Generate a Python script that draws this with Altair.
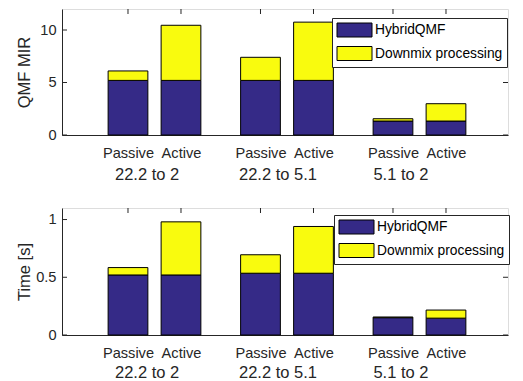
import altair as alt
import pandas as pd

# ---- data ----
modes = ["Passive", "Active", "Passive", "Active", "Passive", "Active"]
bar_groups = ["22.2 to 2", "22.2 to 2", "22.2 to 5.1", "22.2 to 5.1", "5.1 to 2", "5.1 to 2"]
bar_pos = [1, 2, 3.5, 4.5, 6, 7]
mir_hybrid = [5.2, 5.2, 5.2, 5.2, 1.33, 1.33]
mir_downmix = [0.9, 5.25, 2.2, 5.55, 0.22, 1.65]
time_hybrid = [0.52, 0.52, 0.535, 0.535, 0.15, 0.146]
time_downmix = [0.064, 0.46, 0.16, 0.405, 0.006, 0.07]
group_names = ["22.2 to 2", "22.2 to 5.1", "5.1 to 2"]
group_label_pos = [1.36, 3.83, 6.15]
components = ["HybridQMF", "Downmix processing"]
colors = ["#352A87", "#F9FB0E"]

FONT = "Liberation Sans"
AX = "#262626"
W = 446
XDOM = [-0.245, -0.245 + W / 53.0]
HALF = 0.375


def make_df(hyb, dmx):
    rows = []
    for i in range(len(bar_pos)):
        rows.append(dict(pos=bar_pos[i], mode=modes[i], group=bar_groups[i],
                         component=components[0], y0=0.0, y1=hyb[i], order=0))
        rows.append(dict(pos=bar_pos[i], mode=modes[i], group=bar_groups[i],
                         component=components[1], y0=hyb[i], y1=hyb[i] + dmx[i], order=1))
    return pd.DataFrame(rows)


def panel(hyb, dmx, ydom, yticks, ytitle, H, legend_x, legend_y, glabel_off):
    df = make_df(hyb, dmx)
    xscale = alt.Scale(domain=XDOM, nice=False, zero=False)
    yscale = alt.Scale(domain=ydom, nice=False, zero=True)
    bars = alt.Chart(df).transform_calculate(
        xa=f"datum.pos - {HALF}", xb=f"datum.pos + {HALF}"
    ).mark_bar(stroke="black", strokeWidth=1, opacity=1).encode(
        x=alt.X("xa:Q", scale=xscale, axis=alt.Axis(
            values=bar_pos,
            labelExpr="indexof([1, 3.5, 6], datum.value) >= 0 ? 'Passive' : 'Active'",
            ticks=False, domain=True, domainColor=AX, domainWidth=1, grid=False, title=None,
            labelFont=FONT, labelFontSize=14.6, labelColor=AX, labelPadding=10,
            labelFlush=False, labelOverlap=False)),
        x2="xb:Q",
        y=alt.Y("y0:Q", scale=yscale, axis=alt.Axis(
            values=yticks, format="~g", ticks=False, domain=True, domainColor=AX, grid=False,
            title=ytitle, titleFont=FONT, titleFontSize=16.5, titleFontWeight="normal",
            titleColor=AX, titleX=-33, titleY=H / 2, titleBaseline="alphabetic", titleAngle=270,
            labelFont=FONT, labelFontSize=14.6, labelColor=AX, labelPadding=6)),
        y2="y1:Q",
        color=alt.Color("component:N", scale=alt.Scale(domain=components, range=colors),
                        legend=alt.Legend(
                            orient="none", legendX=legend_x, legendY=legend_y, title=None,
                            symbolType="M-2.5,-1L2.5,-1L2.5,1L-2.5,1Z", symbolSize=196,
                            symbolOffset=10.5,
                            symbolStrokeColor="black", symbolStrokeWidth=1,
                            symbolOpacity=1, labelFont=FONT, labelFontSize=13.8,
                            labelColor="black", labelOffset=13, rowPadding=4.5, padding=4.5,
                            strokeColor=AX, fillColor="white")),
        order=alt.Order("order:Q"),
    )
    tick_df = pd.DataFrame({"pos": bar_pos})
    top_ticks = alt.Chart(tick_df).mark_rule(color=AX, strokeWidth=1).encode(
        x=alt.X("pos:Q", scale=xscale), y=alt.value(0), y2=alt.value(5))
    ytick_df = pd.DataFrame({"v": yticks})
    right_ticks = alt.Chart(ytick_df).mark_rule(color=AX, strokeWidth=1).encode(
        y=alt.Y("v:Q", scale=yscale), x=alt.value(W - 5), x2=alt.value(W))
    left_ticks = alt.Chart(ytick_df).mark_rule(color=AX, strokeWidth=1).encode(
        y=alt.Y("v:Q", scale=yscale), x=alt.value(0), x2=alt.value(5))
    glab_df = pd.DataFrame({"name": group_names, "pos": group_label_pos})
    glabels = alt.Chart(glab_df).mark_text(
        font=FONT, fontSize=16.5, color=AX, baseline="middle", align="center").encode(
        x=alt.X("pos:Q", scale=xscale), y=alt.value(H + glabel_off), text="name:N")
    return alt.layer(bars, top_ticks, right_ticks, left_ticks, glabels).properties(width=W, height=H)


top = panel(mir_hybrid, mir_downmix, [0, 12], [0, 5, 10], "QMF MIR", 126, 270, 9, 40)
bottom = panel(time_hybrid, time_downmix, [0, 1.1], [0, 0.5, 1], "Time [s]", 127, 272, 7, 38)

chart = alt.vconcat(top, bottom, spacing=23).resolve_scale(
    color="independent", y="independent", x="independent"
).properties(
    padding={"left": 7, "top": 0, "right": 1, "bottom": 0}
).configure_view(stroke=AX, strokeWidth=1).configure(background="white")

chart.save("out.html", embed_options={"renderer": "svg", "actions": False})
